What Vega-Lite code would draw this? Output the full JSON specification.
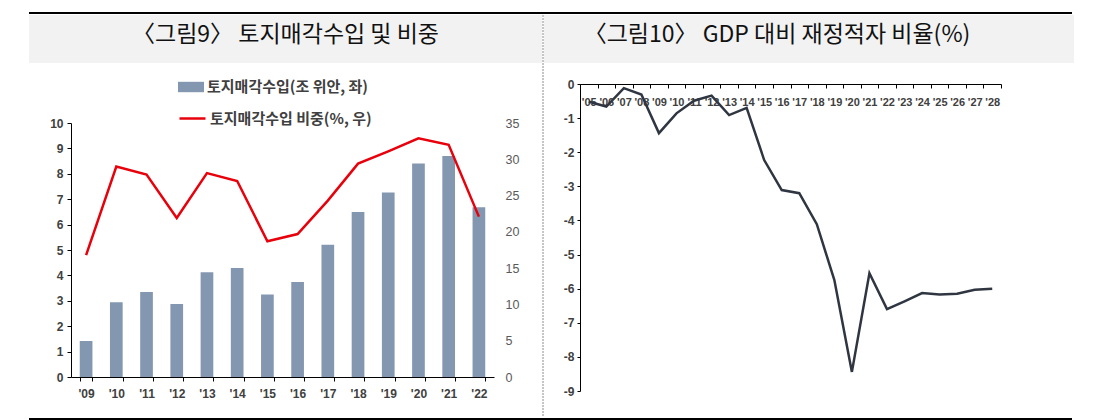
{
  "$schema": "https://vega.github.io/schema/vega-lite/v6.json",
  "padding": {"left": 29, "top": 12, "right": 0, "bottom": 0},
  "background": "white",
  "config": {"view": {"stroke": null}, "font": "Liberation Sans", "text": {"font": "Liberation Sans"}},
  "datasets": {
    "land": [
      {"year": "'09", "land": 1.42, "share": 16.8},
      {"year": "'10", "land": 2.94, "share": 29.0},
      {"year": "'11", "land": 3.35, "share": 27.9},
      {"year": "'12", "land": 2.87, "share": 21.9},
      {"year": "'13", "land": 4.12, "share": 28.1},
      {"year": "'14", "land": 4.29, "share": 27.0},
      {"year": "'15", "land": 3.25, "share": 18.7},
      {"year": "'16", "land": 3.74, "share": 19.7},
      {"year": "'17", "land": 5.21, "share": 24.3},
      {"year": "'18", "land": 6.5, "share": 29.4},
      {"year": "'19", "land": 7.26, "share": 31.1},
      {"year": "'20", "land": 8.41, "share": 32.9},
      {"year": "'21", "land": 8.7, "share": 32.0},
      {"year": "'22", "land": 6.68, "share": 22.1}
    ],
    "deficit": [
      {"year": "'05", "deficit": -0.52},
      {"year": "'06", "deficit": -0.66},
      {"year": "'07", "deficit": -0.12},
      {"year": "'08", "deficit": -0.31},
      {"year": "'09", "deficit": -1.44},
      {"year": "'10", "deficit": -0.86},
      {"year": "'11", "deficit": -0.49},
      {"year": "'12", "deficit": -0.34},
      {"year": "'13", "deficit": -0.91},
      {"year": "'14", "deficit": -0.7},
      {"year": "'15", "deficit": -2.23},
      {"year": "'16", "deficit": -3.11},
      {"year": "'17", "deficit": -3.2},
      {"year": "'18", "deficit": -4.11},
      {"year": "'19", "deficit": -5.75},
      {"year": "'20", "deficit": -8.44},
      {"year": "'21", "deficit": -5.55},
      {"year": "'22", "deficit": -6.6},
      {"year": "'23", "deficit": -6.37},
      {"year": "'24", "deficit": -6.13},
      {"year": "'25", "deficit": -6.17},
      {"year": "'26", "deficit": -6.15},
      {"year": "'27", "deficit": -6.03},
      {"year": "'28", "deficit": -6.0}
    ],
    "one": [{"a": 0}],
    "titles": [
      {"panel": "left", "t": "〈그림9〉 토지매각수입 및 비중"},
      {"panel": "right", "t": "〈그림10〉 GDP 대비 재정적자 비율(%)"}
    ]
  },
  "spacing": 0,
  "vconcat": [
    {
      "width": 1043, "height": 2,
      "data": {"name": "one"},
      "mark": {"type": "rect", "color": "#000000"},
      "encoding": {
        "x": {"datum": 0, "type": "quantitative", "scale": {"domain": [0, 1], "nice": false, "zero": false}, "axis": null},
        "x2": {"datum": 1},
        "y": {"datum": 0, "type": "quantitative", "scale": {"domain": [0, 1], "nice": false, "zero": false}, "axis": null},
        "y2": {"datum": 1}
      }
    },
    {
      "spacing": 0,
      "hconcat": [
        {
          "spacing": 11,
          "vconcat": [
            {
              "width": 513, "height": 48,
              "view": {"fill": "#f2f2f2", "stroke": null},
              "data": {"name": "titles"},
              "transform": [{"filter": "datum.panel === 'left'"}],
              "mark": {"type": "text", "font": "Noto Sans CJK KR", "fontSize": 23, "color": "#111111", "dy": -4},
              "encoding": {"text": {"field": "t", "type": "nominal"}}
            },
            {
              "width": 465, "height": 254,
              "data": {"name": "land"},
              "encoding": {
                "x": {
                  "field": "year", "type": "nominal", "sort": null,
                  "scale": {"type": "band", "range": [42, 465], "paddingInner": 0.58, "paddingOuter": 0.29},
                  "axis": {
                    "title": null, "labelAngle": 0, "domainColor": "#000000", "domainWidth": 1,
                    "tickColor": "#000000", "tickSize": 4, "tickBand": "extent",
                    "labelFont": "Liberation Sans", "labelFontWeight": "bold", "labelFontSize": 12,
                    "labelColor": "#404040", "labelPadding": 7
                  }
                }
              },
              "layer": [
                {
                  "mark": {"type": "bar"},
                  "encoding": {
                    "y": {
                      "field": "land", "type": "quantitative",
                      "scale": {"domain": [0, 10], "nice": false},
                      "axis": {
                        "title": null, "orient": "left", "offset": -42, "grid": false,
                        "values": [0, 1, 2, 3, 4, 5, 6, 7, 8, 9, 10],
                        "domainColor": "#000000", "tickColor": "#000000", "tickSize": 4,
                        "labelFont": "Liberation Sans", "labelFontWeight": "bold", "labelFontSize": 12,
                        "labelColor": "#404040", "labelPadding": 4
                      }
                    },
                    "fill": {
                      "datum": "토지매각수입(조 위안, 좌)", "type": "nominal",
                      "scale": {"range": ["#8497b0"]},
                      "legend": {
                        "title": null, "orient": "none", "legendX": 149, "legendY": -49, "padding": 0,
                        "symbolType": "M-1,-0.4H1V0.4H-1Z", "symbolSize": 676, "symbolStrokeWidth": 0,
                        "labelFont": "Noto Sans CJK KR", "labelFontSize": 15, "labelFontWeight": "bold",
                        "labelColor": "#404040", "labelLimit": 400, "labelOffset": 3
                      }
                    }
                  }
                },
                {
                  "mark": {"type": "line", "strokeWidth": 2.5},
                  "encoding": {
                    "y": {
                      "field": "share", "type": "quantitative",
                      "scale": {"domain": [0, 35], "nice": false},
                      "axis": {
                        "title": null, "orient": "right", "grid": false, "domain": false, "ticks": false,
                        "values": [0, 5, 10, 15, 20, 25, 30, 35],
                        "labelFont": "Liberation Sans", "labelFontSize": 12.5, "labelColor": "#595959",
                        "labelPadding": 11
                      }
                    },
                    "stroke": {
                      "datum": "토지매각수입 비중(%, 우)", "type": "nominal",
                      "scale": {"range": ["#e8000b"]},
                      "legend": {
                        "title": null, "orient": "none", "legendX": 149, "legendY": -19, "padding": 0,
                        "symbolType": "stroke", "symbolSize": 676, "symbolStrokeWidth": 2.5,
                        "labelFont": "Noto Sans CJK KR", "labelFontSize": 15, "labelFontWeight": "bold",
                        "labelColor": "#404040", "labelLimit": 400, "labelOffset": 3
                      }
                    }
                  }
                }
              ],
              "resolve": {"scale": {"y": "independent", "fill": "independent", "stroke": "independent"}}
            }
          ]
        },
        {
          "width": 1, "height": 402,
          "data": {"name": "one"},
          "mark": {"type": "rule", "color": "#8c8c8c", "strokeDash": [2, 1], "strokeWidth": 1},
          "encoding": {"x": {"datum": 0, "type": "quantitative", "scale": {"domain": [0, 1]}, "axis": null}}
        },
        {
          "spacing": 15,
          "vconcat": [
            {
              "width": 530, "height": 48,
              "view": {"fill": "#f2f2f2", "stroke": null},
              "data": {"name": "titles"},
              "transform": [{"filter": "datum.panel === 'right'"}],
              "mark": {"type": "text", "font": "Noto Sans CJK KR", "fontSize": 23, "color": "#111111", "dy": -4, "dx": -32},
              "encoding": {"text": {"field": "t", "type": "nominal"}}
            },
            {
              "width": 457, "height": 307,
              "data": {"name": "deficit"},
              "mark": {"type": "line", "color": "#2f3642", "strokeWidth": 2.5},
              "encoding": {
                "x": {
                  "field": "year", "type": "nominal", "sort": null,
                  "scale": {"type": "band", "range": [36, 457], "paddingInner": 0, "paddingOuter": 0},
                  "axis": {
                    "title": null, "orient": "bottom", "offset": -307, "labelAngle": 0,
                    "domainColor": "#000000", "tickColor": "#000000", "tickSize": 4, "tickBand": "extent",
                    "labelFont": "Liberation Sans", "labelFontWeight": "bold", "labelFontSize": 11,
                    "labelColor": "#404040", "labelPadding": 8
                  }
                },
                "y": {
                  "field": "deficit", "type": "quantitative",
                  "scale": {"domain": [-9, 0], "nice": false},
                  "axis": {
                    "title": null, "offset": -36, "grid": false,
                    "values": [-9, -8, -7, -6, -5, -4, -3, -2, -1, 0],
                    "labelExpr": "toString(datum.value)",
                    "domainColor": "#000000", "tickColor": "#000000", "tickSize": 3,
                    "labelFont": "Liberation Sans", "labelFontWeight": "bold", "labelFontSize": 12,
                    "labelColor": "#404040", "labelPadding": 3
                  }
                }
              }
            }
          ]
        }
      ]
    },
    {
      "width": 1043, "height": 3,
      "data": {"name": "one"},
      "mark": {"type": "rect", "color": "#000000"},
      "encoding": {
        "x": {"datum": 0, "type": "quantitative", "scale": {"domain": [0, 1], "nice": false, "zero": false}, "axis": null},
        "x2": {"datum": 1},
        "y": {"datum": 0, "type": "quantitative", "scale": {"domain": [0, 1], "nice": false, "zero": false}, "axis": null},
        "y2": {"datum": 1}
      }
    }
  ]
}
